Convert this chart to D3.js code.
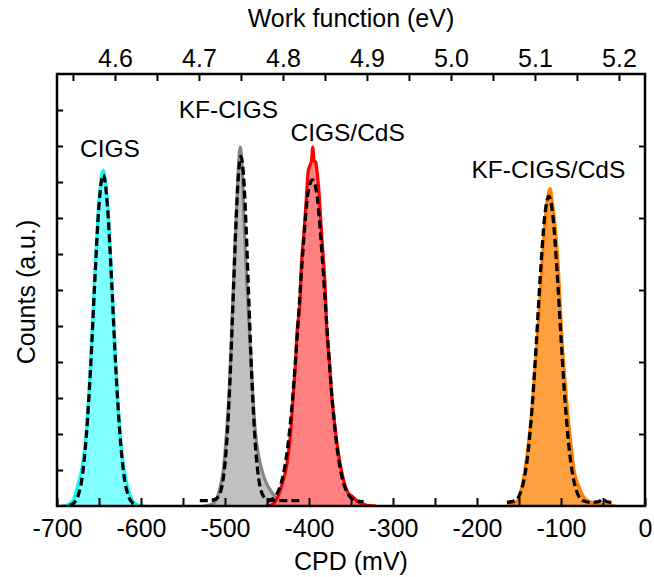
<!DOCTYPE html>
<html>
<head>
<meta charset="utf-8">
<script src="https://cdn.jsdelivr.net/npm/d3@7"></script>
<style>
  body { margin: 0; background: #fff; }
  text { font-family: "Liberation Sans", Arial, sans-serif; fill: #000; }
</style>
</head>
<body>
<div id="chart"></div>
<script>
const WIDTH = 654, HEIGHT = 577;
const MARGIN = { left: 57, right: 9, top: 74, bottom: 71 };

// CPD (mV), counts (a.u.)
const cigsHist = [[-695,0],[-690,0.01],[-685,0.06],[-680,0.2],[-675,0.6],[-670,1.1],[-665,2.05],[-660,3.98],[-655,6.39],[-650,8.49],[-645,9.33],[-640,8.45],[-635,6.35],[-630,3.95],[-625,2.02],[-620,1.0],[-615,0.45],[-610,0.15],[-605,0.04],[-600,0.01],[-595,0]];
const cigsFit = [[-685,0.02],[-680,0.08],[-675,0.28],[-670,0.8],[-665,1.97],[-660,3.83],[-655,6.25],[-650,8.35],[-645,9.2],[-640,8.35],[-635,6.25],[-630,3.83],[-625,1.97],[-620,0.8],[-615,0.28],[-610,0.08],[-605,0.02]];

const kfHist = [[-525,0],[-518,0.03],[-512,0.12],[-507,0.4],[-502,1.0],[-498,2.1],[-495,3.2],[-492,4.9],[-489,6.7],[-486,8.4],[-483,9.8],[-482,9.97],[-480,9.6],[-477,7.7],[-474,6.2],[-471,4.9],[-468,3.6],[-464,2.1],[-460,1.4],[-455,0.9],[-450,0.6],[-446,0.44],[-440,0.25],[-433,0.12],[-425,0.05],[-418,0.01],[-412,0]];
const kfFit = [[-530,0.15],[-520,0.15],[-511,0.19],[-508,0.26],[-505,0.42],[-502,0.78],[-499,1.44],[-496,2.53],[-493,4.08],[-490,5.95],[-487,7.81],[-484,9.19],[-481,9.71],[-478,9.19],[-475,7.81],[-472,5.95],[-469,4.08],[-466,2.53],[-463,1.44],[-460,0.78],[-457,0.42],[-454,0.26],[-450,0.18],[-440,0.15],[-410,0.15]];

const cdsHist = [[-450,0],[-445,0.03],[-440,0.12],[-437,0.26],[-432,0.6],[-426,1.2],[-422,2.0],[-419,3.0],[-416,4.0],[-414,4.9],[-411,5.6],[-409,6.7],[-406,7.6],[-403,8.6],[-401,9.3],[-399,9.45],[-397,9.6],[-395.5,9.97],[-394,9.6],[-392,9.55],[-390,9.2],[-388,8.7],[-386,7.9],[-383,6.9],[-381,6.2],[-379,5.0],[-376,4.1],[-373,3.1],[-370,2.4],[-367,1.8],[-363,1.19],[-358,0.65],[-353,0.35],[-348,0.26],[-342,0.12],[-335,0.05],[-328,0.01],[-320,0]];
const cdsFit = [[-450,0.12],[-441,0.25],[-436,0.44],[-431,0.83],[-426,1.51],[-421,2.59],[-416,4.06],[-411,5.79],[-406,7.48],[-401,8.72],[-396,9.06],[-391,8.72],[-386,7.48],[-381,5.79],[-376,4.06],[-371,2.59],[-366,1.51],[-361,0.83],[-356,0.44],[-351,0.25],[-345,0.15],[-335,0.12]];

const kfCdsHist = [[-165,0],[-158,0.05],[-151,0.17],[-147,0.5],[-143,1.0],[-138,1.9],[-134,2.85],[-131,3.8],[-128,4.7],[-125.5,5.6],[-123,6.56],[-120,7.6],[-117,8.4],[-113,8.82],[-110,8.4],[-106,7.5],[-103,6.56],[-101,5.6],[-99,4.7],[-96,3.7],[-93,2.85],[-89,1.9],[-84.5,1.0],[-78,0.5],[-70,0.17],[-60,0.08],[-50,0.04],[-40,0.01],[-35,0]];
const kfCdsFit = [[-164.5,0.1],[-154.5,0.15],[-149.5,0.3],[-144.5,0.68],[-139.5,1.43],[-134.5,2.7],[-129.5,4.48],[-124.5,6.45],[-119.5,8.02],[-114.5,8.6],[-109.5,8.02],[-104.5,6.45],[-99.5,4.48],[-94.5,2.7],[-89.5,1.43],[-84.5,0.68],[-79.5,0.3],[-74.5,0.15],[-65,0.1],[-55,0.12],[-50,0.2],[-46,0.12],[-40,0.1]];

const sampleNames = ['CIGS', 'KF-CIGS', 'CIGS/CdS', 'KF-CIGS/CdS'];
const cpdTicks = [-700, -650, -600, -550, -500, -450, -400, -350, -300, -250, -200, -150, -100, -50, 0];
const wfTicks = [4.55, 4.6, 4.65, 4.7, 4.75, 4.8, 4.85, 4.9, 4.95, 5.0, 5.05, 5.1, 5.15, 5.2];

const series = [
  { name: sampleNames[0], hist: cigsHist, fit: cigsFit, line: '#00ffff', fill: '#80ffff', lx: -637, ly: 9.69 },
  { name: sampleNames[1], hist: kfHist, fit: kfFit, line: '#858585', fill: '#c0c0c0', lx: -496, ly: 10.78 },
  { name: sampleNames[2], hist: cdsHist, fit: cdsFit, line: '#ff0000', fill: '#ff8080', lx: -354, ly: 10.14 },
  { name: sampleNames[3], hist: kfCdsHist, fit: kfCdsFit, line: '#ff8000', fill: '#ffa040', lx: -115, ly: 9.11 }
];

const svg = d3.select('#chart').append('svg')
  .attr('width', WIDTH)
  .attr('height', HEIGHT);

const w = WIDTH - MARGIN.left - MARGIN.right;
const h = HEIGHT - MARGIN.top - MARGIN.bottom;
const g = svg.append('g').attr('transform', `translate(${MARGIN.left},${MARGIN.top})`);

const x = d3.scaleLinear().domain([-700, 0]).range([0, w]);
// work function = 5.231 eV + CPD
const wf = d3.scaleLinear().domain([4.531, 5.231]).range([0, w]);
const y = d3.scaleLinear().domain([0, 12]).range([h, 0]);

g.append('clipPath').attr('id', 'clip')
  .append('rect').attr('width', w).attr('height', h);

const plot = g.append('g').attr('clip-path', 'url(#clip)');

const area = d3.area()
  .x(d => x(d[0])).y0(y(0)).y1(d => y(d[1]))
  .curve(d3.curveMonotoneX);
const line = d3.line()
  .x(d => x(d[0])).y(d => y(d[1]))
  .curve(d3.curveMonotoneX);

// filled histograms
series.forEach(s => {
  plot.append('path').datum(s.hist)
    .attr('d', area)
    .attr('fill', s.fill);
  plot.append('path').datum(s.hist)
    .attr('d', line)
    .attr('fill', 'none')
    .attr('stroke', s.line)
    .attr('stroke-width', 3.2)
    .attr('stroke-linejoin', 'round');
});

// gaussian fits
series.forEach(s => {
  plot.append('path').datum(s.fit)
    .attr('d', line)
    .attr('fill', 'none')
    .attr('stroke', '#000')
    .attr('stroke-width', 3.3)
    .attr('stroke-dasharray', '8,4');
});

// sample labels
g.selectAll('.sample-label')
  .data(series)
  .join('text')
  .attr('class', 'sample-label')
  .attr('x', d => x(d.lx))
  .attr('y', d => y(d.ly))
  .attr('text-anchor', 'middle')
  .style('font-size', '24.5px')
  .text(d => d.name);

// axes, ticks inside
const styleAxis = sel => {
  sel.select('.domain').remove();
  sel.selectAll('line').attr('stroke', '#000').attr('stroke-width', 2);
  sel.selectAll('text').style('font-size', '25px').attr('fill', '#000');
};

g.append('g')
  .attr('transform', `translate(0,${h})`)
  .call(d3.axisBottom(x).tickValues(cpdTicks).tickSize(-8).tickPadding(13)
    .tickFormat(d => d % 100 === 0 ? d : ''))
  .call(styleAxis);

g.append('g')
  .call(d3.axisTop(wf).tickValues(wfTicks).tickSize(-7).tickPadding(7)
    .tickFormat(d => Math.round(d * 100) % 10 === 0 ? d.toFixed(1) : ''))
  .call(styleAxis);

g.append('g')
  .call(d3.axisLeft(y).tickValues(d3.range(1, 12)).tickSize(-6).tickFormat(''))
  .call(styleAxis);

g.append('g')
  .attr('transform', `translate(${w},0)`)
  .call(d3.axisRight(y).tickValues([2, 4, 6, 8, 10]).tickSize(-6).tickFormat(''))
  .call(styleAxis);

// frame
g.append('rect')
  .attr('width', w).attr('height', h)
  .attr('fill', 'none')
  .attr('stroke', '#000')
  .attr('stroke-width', 2.5);

// axis titles
g.append('text')
  .attr('x', w / 2).attr('y', h + 64)
  .attr('text-anchor', 'middle')
  .style('font-size', '25px')
  .text('CPD (mV)');

g.append('text')
  .attr('x', w / 2).attr('y', -47)
  .attr('text-anchor', 'middle')
  .style('font-size', '25px')
  .text('Work function (eV)');

g.append('text')
  .attr('transform', `translate(-22,${h / 2 + 2}) rotate(-90)`)
  .attr('text-anchor', 'middle')
  .style('font-size', '25px')
  .text('Counts (a.u.)');
</script>
</body>
</html>
